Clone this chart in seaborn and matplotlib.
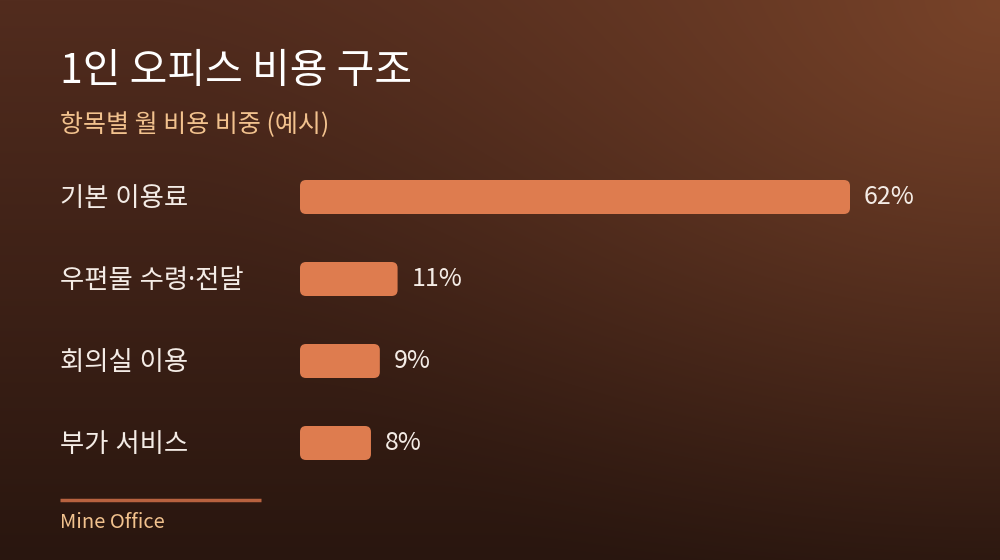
import numpy as np
import pandas as pd
import matplotlib
matplotlib.use("Agg")
import matplotlib.pyplot as plt
import matplotlib.transforms as mtransforms
from matplotlib.patches import FancyBboxPatch
import seaborn as sns

# ---- data ----
categories = ["기본 이용료", "우편물 수령·전달", "회의실 이용", "부가 서비스"]
shares = [62, 11, 9, 8]
value_labels = ["62%", "11%", "9%", "8%"]
title = "1인 오피스 비용 구조"
subtitle = "항목별 월 비용 비중 (예시)"
footer = "Mine Office"

sns.set_theme(style="white")
plt.rcParams["font.family"] = ["Noto Sans CJK KR", "DejaVu Sans"]
mixed = ["Noto Sans", "Noto Sans CJK KR", "DejaVu Sans"]

W, H = 1000, 560
fig = plt.figure(figsize=(W / 100, H / 100), dpi=100)

# ---- background gradient ----
bg = fig.add_axes([0, 0, 1, 1])
yy, xx = np.mgrid[0:H, 0:W]
top = np.array([0x52, 0x2c, 0x1e]) / 255
bot = np.array([0x29, 0x16, 0x0f]) / 255
t = (yy / H)[..., None]
img = top * (1 - t) + bot * t
glow = np.array([0x78, 0x43, 0x29]) / 255
d = np.sqrt((xx - W) ** 2 + (yy * 1.3) ** 2)
g = np.clip(1 - d / 850, 0, 1)[..., None] ** 1.5
img = img * (1 - g) + glow * g
bg.imshow(img, extent=[0, W, H, 0], aspect="auto")
bg.set_xlim(0, W)
bg.set_ylim(H, 0)
bg.axis("off")

# ---- bar axes ----
px_per_unit = 550 / 62
ax_left, ax_right = 300, 1000
row_h = 82
ax_top = 156
ax_bot = ax_top + row_h * 4
ax = fig.add_axes([ax_left / W, 1 - ax_bot / H, (ax_right - ax_left) / W, (ax_bot - ax_top) / H])
ax.patch.set_alpha(0)

df = pd.DataFrame({"category": categories, "share": shares})
bar_color = "#DE7C4F"
sns.barplot(data=df, y="category", x="share", order=categories, color=bar_color,
            width=34 / row_h, ax=ax, saturation=1)
ax.set_xlim(0, (ax_right - ax_left) / px_per_unit)
ax.set_ylim(3.5, -0.5)

# rounded bars
aspect = px_per_unit / row_h
for p in list(ax.patches):
    x0, y0 = p.get_x(), p.get_y()
    w, h = p.get_width(), p.get_height()
    p.remove()
    fb = FancyBboxPatch((x0, y0), w, h,
                        boxstyle=f"round,pad=0,rounding_size={6 / px_per_unit}",
                        mutation_aspect=aspect, facecolor=bar_color, edgecolor="none")
    ax.add_patch(fb)

for s in ax.spines.values():
    s.set_visible(False)
ax.set_xticks([])
ax.set_yticks([])
ax.set_xlabel("")
ax.set_ylabel("")

# category labels
lab_tr = mtransforms.blended_transform_factory(fig.transFigure, ax.transData)
for i, c in enumerate(categories):
    ax.text(60 / W, i + 0.02, c, transform=lab_tr, ha="left", va="center",
            fontsize=19, color="#F4ECE6", family=mixed)

# value labels
for i, (v, lab) in enumerate(zip(shares, value_labels)):
    tr = mtransforms.offset_copy(ax.transData, fig=fig, x=14, y=0, units="dots")
    ax.text(v, i, lab, transform=tr, ha="left", va="center",
            fontsize=18, color="#F4ECE6")

# titles
fig.text(60 / W, 1 - 71 / H, title, ha="left", va="center", fontsize=29.5,
         color="white", fontweight="medium")
fig.text(60 / W, 1 - 125 / H, subtitle, ha="left", va="center", fontsize=18,
         color="#F2C28E")

# footer
fig.add_artist(plt.Line2D([60 / W, 261 / W], [1 - 500 / H, 1 - 500 / H],
                          color="#B8623F", linewidth=2.5, solid_capstyle="butt",
                          transform=fig.transFigure))
fig.text(60 / W, 1 - 522 / H, footer, ha="left", va="center", fontsize=14.5,
         color="#F2C28E")

fig.savefig("out.png", dpi=100)
